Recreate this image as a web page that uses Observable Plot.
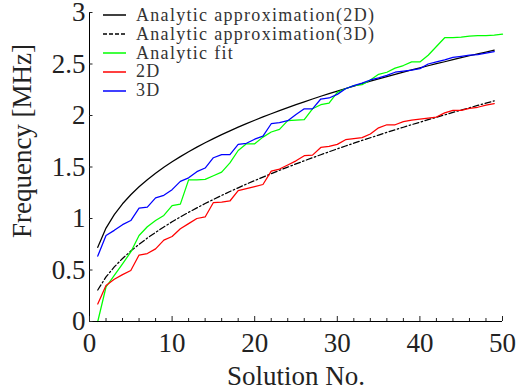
<!DOCTYPE html>
<html>
<head>
<meta charset="utf-8">
<script src="https://cdn.jsdelivr.net/npm/d3@7"></script>
<script src="https://cdn.jsdelivr.net/npm/@observablehq/plot@0.6"></script>
<style>
  html, body { margin: 0; padding: 0; background: #fff; }
  #wrap { position: relative; width: 518px; height: 392px; }
  #legend { position: absolute; left: 103px; top: 6px; font-family: "Liberation Serif", serif; font-size: 18px; letter-spacing: 1.3px; color: #333; }
  #legend .row { display: flex; align-items: center; height: 18.8px; }
  #legend svg { margin-right: 10px; }
</style>
</head>
<body>
<div id="wrap"></div>
<script>
// Data
const solution = d3.range(1, 51); // 1..50
const analytic2D = [0.72, 0.907, 1.038, 1.143, 1.231, 1.308, 1.377, 1.44, 1.498, 1.551, 1.601, 1.648, 1.693, 1.735, 1.776, 1.814, 1.851, 1.887, 1.921, 1.954, 1.986, 2.017, 2.048, 2.076, 2.105, 2.133, 2.16, 2.187, 2.212, 2.237, 2.262, 2.286, 2.31, 2.333, 2.355, 2.377, 2.399, 2.421, 2.442, 2.462, 2.483, 2.503, 2.522, 2.542, 2.561, 2.58, 2.598, 2.616, 2.634];
const analytic3D = [0.306, 0.433, 0.53, 0.612, 0.684, 0.749, 0.81, 0.865, 0.918, 0.968, 1.015, 1.06, 1.103, 1.145, 1.185, 1.224, 1.262, 1.298, 1.334, 1.368, 1.402, 1.435, 1.468, 1.499, 1.53, 1.56, 1.59, 1.619, 1.648, 1.676, 1.704, 1.731, 1.758, 1.784, 1.81, 1.836, 1.861, 1.886, 1.911, 1.935, 1.959, 1.983, 2.006, 2.03, 2.053, 2.075, 2.098, 2.12, 2.142];
const analyticFit = [0.0, 0.335, 0.447, 0.56, 0.675, 0.835, 0.92, 0.98, 1.03, 1.125, 1.14, 1.375, 1.375, 1.38, 1.415, 1.45, 1.54, 1.66, 1.725, 1.725, 1.79, 1.84, 1.865, 1.95, 1.955, 1.96, 2.065, 2.105, 2.12, 2.225, 2.26, 2.29, 2.30, 2.345, 2.40, 2.42, 2.46, 2.485, 2.52, 2.52, 2.585, 2.67, 2.755, 2.755, 2.76, 2.77, 2.775, 2.775, 2.78, 2.79];
const sim2D = [0.17, 0.35, 0.41, 0.455, 0.495, 0.645, 0.66, 0.705, 0.79, 0.825, 0.90, 0.95, 1.0, 1.015, 1.155, 1.16, 1.17, 1.27, 1.29, 1.31, 1.33, 1.46, 1.48, 1.52, 1.56, 1.61, 1.615, 1.69, 1.70, 1.72, 1.765, 1.775, 1.785, 1.82, 1.88, 1.91, 1.91, 1.94, 1.955, 1.965, 1.975, 1.985, 2.025, 2.05, 2.05, 2.07, 2.08, 2.10, 2.115];
const sim3D = [0.635, 0.835, 0.885, 0.94, 0.98, 1.10, 1.11, 1.20, 1.225, 1.28, 1.36, 1.395, 1.455, 1.49, 1.59, 1.62, 1.62, 1.72, 1.73, 1.77, 1.80, 1.92, 1.93, 1.95, 2.01, 2.065, 2.065, 2.16, 2.17, 2.205, 2.26, 2.29, 2.315, 2.345, 2.365, 2.39, 2.42, 2.43, 2.44, 2.455, 2.50, 2.52, 2.54, 2.565, 2.575, 2.585, 2.59, 2.605, 2.62];

const xTicks = [0, 10, 20, 30, 40, 50];
const xMinorTicks = [2, 4, 6, 8, 12, 14, 16, 18, 22, 24, 26, 28, 32, 34, 36, 38, 42, 44, 46, 48];
const yTicks = [0, 0.5, 1, 1.5, 2, 2.5, 3];
const yTickLabels = ["0", "0.5", "1", "1.5", "2", "2.5", "3"];

const seriesNames = ["Analytic approximation(2D)", "Analytic approximation(3D)", "Analytic fit", "2D", "3D"];
const seriesColors = ["#000000", "#000000", "#00ff00", "#ff0000", "#0000ff"];
const seriesDash = [null, "6,2.5,1.5,2.5", null, null, null];
const seriesValues = [analytic2D, analytic3D, analyticFit, sim2D, sim3D];

const xLabel = "Solution No.";
const yLabel = "Frequency [MHz]";

const rows = (vals) => vals.map((v, i) => ({n: solution[i], v}));

const font = '"Liberation Serif", serif';

const marks = [];
[0, 1, 2, 3, 4].forEach(i => {
  marks.push(Plot.line(rows(seriesValues[i]), {
    x: "n", y: "v", stroke: seriesColors[i], strokeWidth: 1.25,
    strokeDasharray: seriesDash[i] ?? undefined
  }));
});

marks.push(Plot.ruleX([0], {stroke: "#000", strokeWidth: 1}));
marks.push(Plot.ruleY([0], {stroke: "#000", strokeWidth: 1}));
marks.push(Plot.axisY({ticks: yTicks, tickFormat: (d) => yTickLabels[yTicks.indexOf(d)], tickSize: -3.5, tickPadding: 7.5, fontSize: 27, label: null}));
marks.push(Plot.axisX({ticks: xTicks, tickSize: -5, tickPadding: 16, fontSize: 27, label: null}));
marks.push(Plot.axisX({ticks: xMinorTicks, tickSize: -3, tickFormat: () => "", label: null}));
marks.push(Plot.text([xLabel], {frameAnchor: "bottom", textAnchor: "middle", lineAnchor: "bottom", dy: 63, fontSize: 27, letterSpacing: 1.2, fill: "#222"}));
marks.push(Plot.text([yLabel], {frameAnchor: "left", textAnchor: "middle", lineAnchor: "middle", dx: -67, dy: -26, rotate: -90, fontSize: 27, letterSpacing: 2, fill: "#222"}));

const chart = Plot.plot({
  width: 518,
  height: 392,
  marginLeft: 89,
  marginRight: 16,
  marginTop: 12,
  marginBottom: 71,
  style: {fontFamily: font, color: "#222", background: "#fff"},
  x: {domain: [0, 50]},
  y: {domain: [0, 3]},
  marks
});

const wrap = document.getElementById("wrap");
wrap.appendChild(chart);

// legend overlay inside the plot area
const legend = document.createElement("div");
legend.id = "legend";
seriesNames.forEach((name, i) => {
  const row = document.createElement("div");
  row.className = "row";
  const sw = document.createElementNS("http://www.w3.org/2000/svg", "svg");
  sw.setAttribute("width", 23);
  sw.setAttribute("height", 6);
  const ln = document.createElementNS("http://www.w3.org/2000/svg", "line");
  ln.setAttribute("x1", 0); ln.setAttribute("x2", 23);
  ln.setAttribute("y1", 3); ln.setAttribute("y2", 3);
  ln.setAttribute("stroke", seriesColors[i]);
  ln.setAttribute("stroke-width", 1.5);
  if (seriesDash[i]) ln.setAttribute("stroke-dasharray", "4,2");
  sw.appendChild(ln);
  const t = document.createElement("span");
  t.textContent = name;
  row.appendChild(sw);
  row.appendChild(t);
  legend.appendChild(row);
});
wrap.appendChild(legend);
</script>
</body>
</html>
